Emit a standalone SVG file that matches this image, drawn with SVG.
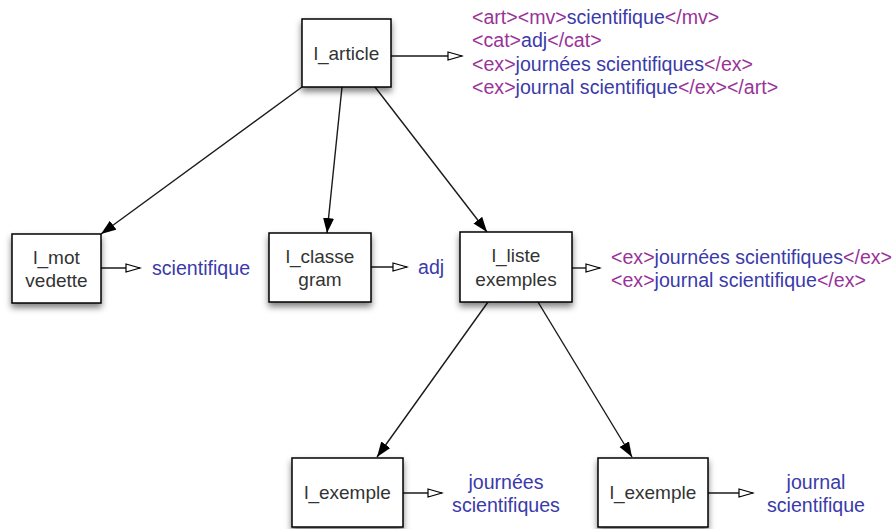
<svg xmlns="http://www.w3.org/2000/svg" width="894" height="529" viewBox="0 0 894 529">
<defs>
<filter id="sh" x="-20%" y="-20%" width="140%" height="150%">
<feDropShadow dx="0" dy="4" stdDeviation="3" flood-color="#000" flood-opacity="0.5"/>
</filter>
<marker id="fa" markerUnits="userSpaceOnUse" markerWidth="17" markerHeight="12" refX="15" refY="5.5" orient="auto">
<path d="M0,0 L15,5.5 L0,11 z" fill="#000"/>
</marker>
<marker id="oa" markerUnits="userSpaceOnUse" markerWidth="17" markerHeight="11" refX="15" refY="5" orient="auto">
<path d="M1,1 L15,5 L1,9 z" fill="#fff" stroke="#000" stroke-width="1.2"/>
</marker>
<style>
.box{fill:#fff;stroke:#000;stroke-width:1.5;filter:url(#sh)}
.lbl{font-family:"Liberation Sans",Arial,sans-serif;font-size:19px;fill:#333;text-anchor:middle}
.x{font-family:"Liberation Sans",Arial,sans-serif;font-size:19.6px}
.t{fill:#993399}
.c{fill:#3a3aaa}
.e{stroke:#1a1a1a;stroke-width:1.4;fill:none}
.f{marker-end:url(#fa)}
.o{marker-end:url(#oa)}
</style>
</defs>
<g id="connectors">
<line class="e f" x1="302" y1="87" x2="101" y2="234"/>
<line class="e f" x1="342" y1="87" x2="327" y2="233"/>
<line class="e f" x1="375" y1="87" x2="487" y2="232"/>
<line class="e f" x1="488" y1="302" x2="377" y2="457"/>
<line class="e f" x1="538" y1="302" x2="632" y2="457"/>
<line class="e o" x1="391" y1="56" x2="462" y2="56"/>
<line class="e o" x1="101" y1="268" x2="140" y2="268"/>
<line class="e o" x1="371" y1="267" x2="407" y2="267"/>
<line class="e o" x1="572" y1="268" x2="600" y2="268"/>
<line class="e o" x1="403" y1="493" x2="442" y2="493"/>
<line class="e o" x1="708" y1="493" x2="753" y2="493"/>
</g>
<g id="l_article">
<rect class="box" x="302" y="19" width="89" height="68"/>
<text class="lbl" x="346.5" y="60">l_article</text>
</g>
<g id="xml_article">
<text class="x" x="472" y="24"><tspan class="t">&lt;art&gt;&lt;mv&gt;</tspan><tspan class="c">scientifique</tspan><tspan class="t">&lt;/mv&gt;</tspan></text>
<text class="x" x="472" y="47"><tspan class="t">&lt;cat&gt;</tspan><tspan class="c">adj</tspan><tspan class="t">&lt;/cat&gt;</tspan></text>
<text class="x" x="472" y="71"><tspan class="t">&lt;ex&gt;</tspan><tspan class="c">journées scientifiques</tspan><tspan class="t">&lt;/ex&gt;</tspan></text>
<text class="x" x="472" y="94"><tspan class="t">&lt;ex&gt;</tspan><tspan class="c">journal scientifique</tspan><tspan class="t">&lt;/ex&gt;&lt;/art&gt;</tspan></text>
</g>
<g id="l_mot_vedette">
<rect class="box" x="12" y="234" width="89" height="69"/>
<text class="lbl" x="56.5" y="264">l_mot</text>
<text class="lbl" x="56.5" y="287">vedette</text>
</g>
<g id="val_mot">
<text class="x c" x="152" y="275">scientifique</text>
</g>
<g id="l_classe_gram">
<rect class="box" x="269" y="233" width="102" height="69"/>
<text class="lbl" x="320" y="263">l_classe</text>
<text class="lbl" x="320" y="286">gram</text>
</g>
<g id="val_classe">
<text class="x c" x="418" y="274">adj</text>
</g>
<g id="l_liste_exemples">
<rect class="box" x="460" y="232" width="112" height="70"/>
<text class="lbl" x="516" y="262">l_liste</text>
<text class="lbl" x="516" y="286">exemples</text>
</g>
<g id="xml_liste">
<text class="x" x="611" y="264"><tspan class="t">&lt;ex&gt;</tspan><tspan class="c">journées scientifiques</tspan><tspan class="t">&lt;/ex&gt;</tspan></text>
<text class="x" x="611" y="287"><tspan class="t">&lt;ex&gt;</tspan><tspan class="c">journal scientifique</tspan><tspan class="t">&lt;/ex&gt;</tspan></text>
</g>
<g id="l_exemple_1">
<rect class="box" x="292" y="458" width="111" height="69"/>
<text class="lbl" x="347.5" y="499">l_exemple</text>
</g>
<g id="val_ex1">
<text class="x c" x="506" y="489" text-anchor="middle">journées</text>
<text class="x c" x="506" y="512" text-anchor="middle">scientifiques</text>
</g>
<g id="l_exemple_2">
<rect class="box" x="598" y="458" width="110" height="69"/>
<text class="lbl" x="653" y="499">l_exemple</text>
</g>
<g id="val_ex2">
<text class="x c" x="816" y="489" text-anchor="middle">journal</text>
<text class="x c" x="816" y="512" text-anchor="middle">scientifique</text>
</g>
</svg>
